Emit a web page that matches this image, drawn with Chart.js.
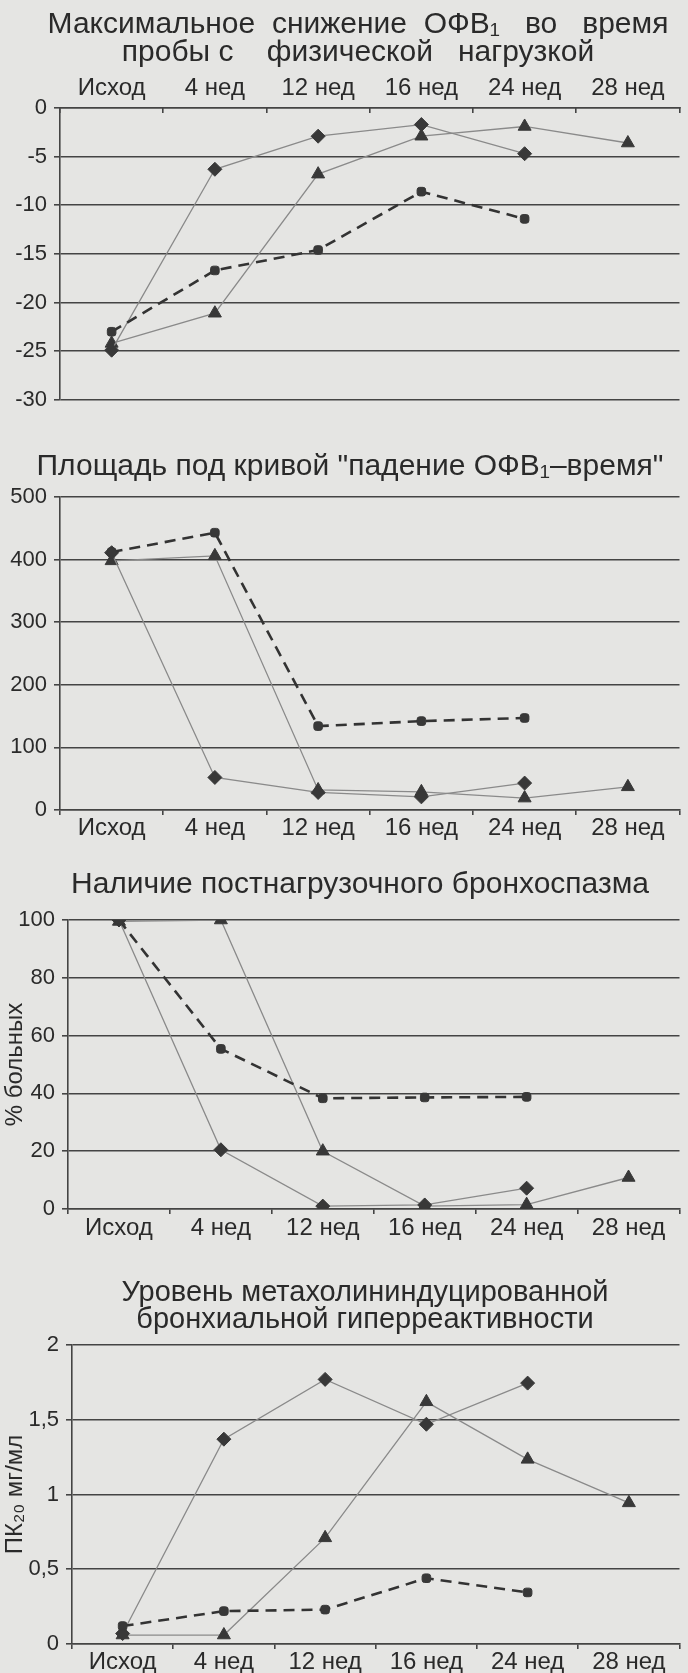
<!DOCTYPE html>
<html>
<head>
<meta charset="utf-8">
<script src="https://cdn.jsdelivr.net/npm/chart.js@4.4.1/dist/chart.umd.min.js"></script>
<style>
  html, body { margin: 0; padding: 0; background: #e5e5e3; }
  body { width: 688px; height: 1673px; position: relative; overflow: hidden; }
  .box { position: absolute; left: 0; width: 688px; }
  canvas { display: block; }
</style>
</head>
<body>
<div class="box" style="top:0px"><canvas id="c1" width="688" height="420"></canvas></div>
<div class="box" style="top:420px"><canvas id="c2" width="688" height="425"></canvas></div>
<div class="box" style="top:845px"><canvas id="c3" width="688" height="400"></canvas></div>
<div class="box" style="top:1245px"><canvas id="c4" width="688" height="428"></canvas></div>
<script>
// ---------- DATA ----------
const categories = ['Исход', '4 нед', '12 нед', '16 нед', '24 нед', '28 нед'];

// Chart 1: Максимальное снижение ОФВ1 во время пробы с физической нагрузкой
const fevDropDiamond  = [-24.9, -6.3, -2.9, -1.7, -4.7, null];
const fevDropTriangle = [-24.2, -21.1, -6.8, -2.9, -1.9, -3.6];
const fevDropDashed   = [-23.0, -16.7, -14.6, -8.6, -11.4, null];
const fevDropTicks    = ['-30', '-25', '-20', '-15', '-10', '-5', '0'];

// Chart 2: Площадь под кривой "падение ОФВ1 – время"
const aucDiamond  = [411, 52, 28, 21, 43, null];
const aucTriangle = [398, 406, 32, 29, 19, 37];
const aucDashed   = [412, 443, 134, 142, 147, null];
const aucTicks    = ['0', '100', '200', '300', '400', '500'];

// Chart 3: Наличие постнагрузочного бронхоспазма
const eibDiamond  = [100, 20.5, 1, 1.4, 7.2, null];
const eibTriangle = [99.5, 100, 20, 1, 1.5, 10.9];
const eibDashed   = [100, 55.4, 38.3, 38.6, 38.8, null];
const eibTicks    = ['0', '20', '40', '60', '80', '100'];

// Chart 4: Уровень метахолининдуцированной бронхиальной гиперреактивности
const pcDiamond  = [0.07, 1.37, 1.77, 1.47, 1.745, null];
const pcTriangle = [0.06, 0.06, 0.71, 1.62, 1.235, 0.944];
const pcDashed   = [0.12, 0.22, 0.23, 0.44, 0.345, null];
const pcTicks    = ['0', '0,5', '1', '1,5', '2'];

const titles = {
  c1: ['Максимальное  снижение  ОФВ\u2081   во   время', 'пробы с    физической   нагрузкой'],
  c2: 'Площадь под кривой "падение ОФВ\u2081\u2013время"',
  c3: 'Наличие постнагрузочного бронхоспазма',
  c4: ['Уровень метахолининдуцированной', 'бронхиальной гиперреактивности']
};
const yTitles = { c3: '% больных', c4: 'ПК\u2082\u2080 мг/мл' };

// ---------- STYLE ----------
Chart.defaults.font.family = '"Liberation Sans", Arial, "DejaVu Sans", sans-serif';
Chart.defaults.color = '#2a2a2a';
Chart.defaults.animation = false;

const AXIS = '#444444';
const THIN = '#8a8a8a';
const MARK = '#383838';

function makeDatasets(diamond, triangle, dashed) {
  return [
    { label: 'dashed', data: dashed, borderColor: '#333', borderWidth: 2.6, borderDash: [11, 7],
      pointStyle: 'rectRounded', pointRadius: 5, pointBackgroundColor: MARK, pointBorderColor: MARK, pointBorderWidth: 1 },
    { label: 'diamond', data: diamond, borderColor: THIN, borderWidth: 1.3,
      pointStyle: 'rectRot', pointRadius: 7, pointBackgroundColor: MARK, pointBorderColor: MARK, pointBorderWidth: 1 },
    { label: 'triangle', data: triangle, borderColor: THIN, borderWidth: 1.3,
      pointStyle: 'triangle', pointRadius: 7.5, pointBackgroundColor: MARK, pointBorderColor: MARK, pointBorderWidth: 1 }
  ];
}

// shifts the horizontal centre of the title block
const titleCenterPlugin = {
  id: 'titleCenter',
  afterLayout(chart, args, opts) {
    const tb = chart.titleBlock;
    if (tb && opts && opts.center) {
      tb.left = opts.center - 344;
      tb.right = opts.center + 344;
    }
  }
};

function makeChart(id, cfg) {
  const yTitle = yTitles[id];
  return new Chart(document.getElementById(id), {
    type: 'line',
    data: { labels: categories, datasets: makeDatasets(cfg.diamond, cfg.triangle, cfg.dashed) },
    plugins: [titleCenterPlugin],
    options: {
      responsive: false,
      devicePixelRatio: 1,
      layout: { padding: { left: 0, right: cfg.padRight, top: 0, bottom: cfg.padBottom } },
      plugins: {
        legend: { display: false },
        tooltip: { enabled: false },
        titleCenter: { center: cfg.titleCenter },
        title: {
          display: true, text: titles[id], fullSize: false,
          font: { size: cfg.titleSize, weight: 'normal', lineHeight: cfg.titleLH },
          padding: { top: cfg.titleTop, bottom: cfg.titleBottom },
          color: '#2a2a2a'
        }
      },
      scales: {
        x: {
          type: 'category',
          position: cfg.xPos,
          offset: true,
          grid: { display: true, drawOnChartArea: false, offset: true, color: AXIS, lineWidth: 1.6, tickLength: cfg.xTick },
          border: { display: true, color: AXIS, width: 1.6 },
          ticks: { font: { size: 24, lineHeight: 1 }, padding: cfg.xPad, maxRotation: 0, autoSkip: false, color: '#2a2a2a' },
          afterFit: (s) => { s.height = cfg.xHeight; }
        },
        y: {
          type: 'linear',
          min: cfg.min, max: cfg.max,
          ticks: { stepSize: cfg.step, font: { size: 22 }, padding: 7, color: '#2a2a2a',
                   callback: (v, i) => cfg.tickLabels[i] },
          grid: { color: AXIS, lineWidth: 1.6, tickLength: 6 },
          border: { display: true, color: AXIS, width: 1.6 },
          title: yTitle ? { display: true, text: yTitle, font: { size: 24 }, padding: { top: 1, bottom: 0 }, color: '#2a2a2a' } : { display: false },
          afterFit: (s) => { s.width = cfg.yWidth; }
        }
      }
    }
  });
}

makeChart('c1', {
  diamond: fevDropDiamond, triangle: fevDropTriangle, dashed: fevDropDashed, tickLabels: fevDropTicks,
  min: -30, max: 0, step: 5, xPos: 'top', xTick: -5, xPad: 13, xHeight: 41, titleSize: 30,
  titleLH: '28px', titleTop: 11, titleBottom: 0, padRight: 6, padBottom: 18, yWidth: 60, titleCenter: 358
});
makeChart('c2', {
  diamond: aucDiamond, triangle: aucTriangle, dashed: aucDashed, tickLabels: aucTicks,
  min: 0, max: 500, step: 100, xPos: 'bottom', xTick: 5, xPad: 1, xHeight: 35, titleSize: 30,
  titleLH: '28px', titleTop: 33, titleBottom: 16, padRight: 5, padBottom: 0, yWidth: 60, titleCenter: 350
});
makeChart('c3', {
  diamond: eibDiamond, triangle: eibTriangle, dashed: eibDashed, tickLabels: eibTicks,
  min: 0, max: 100, step: 20, xPos: 'bottom', xTick: 5, xPad: 2, xHeight: 36, titleSize: 30,
  titleLH: '28px', titleTop: 26, titleBottom: 21, padRight: 2, padBottom: 0, yWidth: 68, titleCenter: 360
});
makeChart('c4', {
  diamond: pcDiamond, triangle: pcTriangle, dashed: pcDashed, tickLabels: pcTicks,
  min: 0, max: 2, step: 0.5, xPos: 'bottom', xTick: 5, xPad: 1, xHeight: 29, titleSize: 29,
  titleLH: '27px', titleTop: 34.5, titleBottom: 11.5, padRight: 2, padBottom: 0, yWidth: 72, titleCenter: 365
});
</script>
</body>
</html>
